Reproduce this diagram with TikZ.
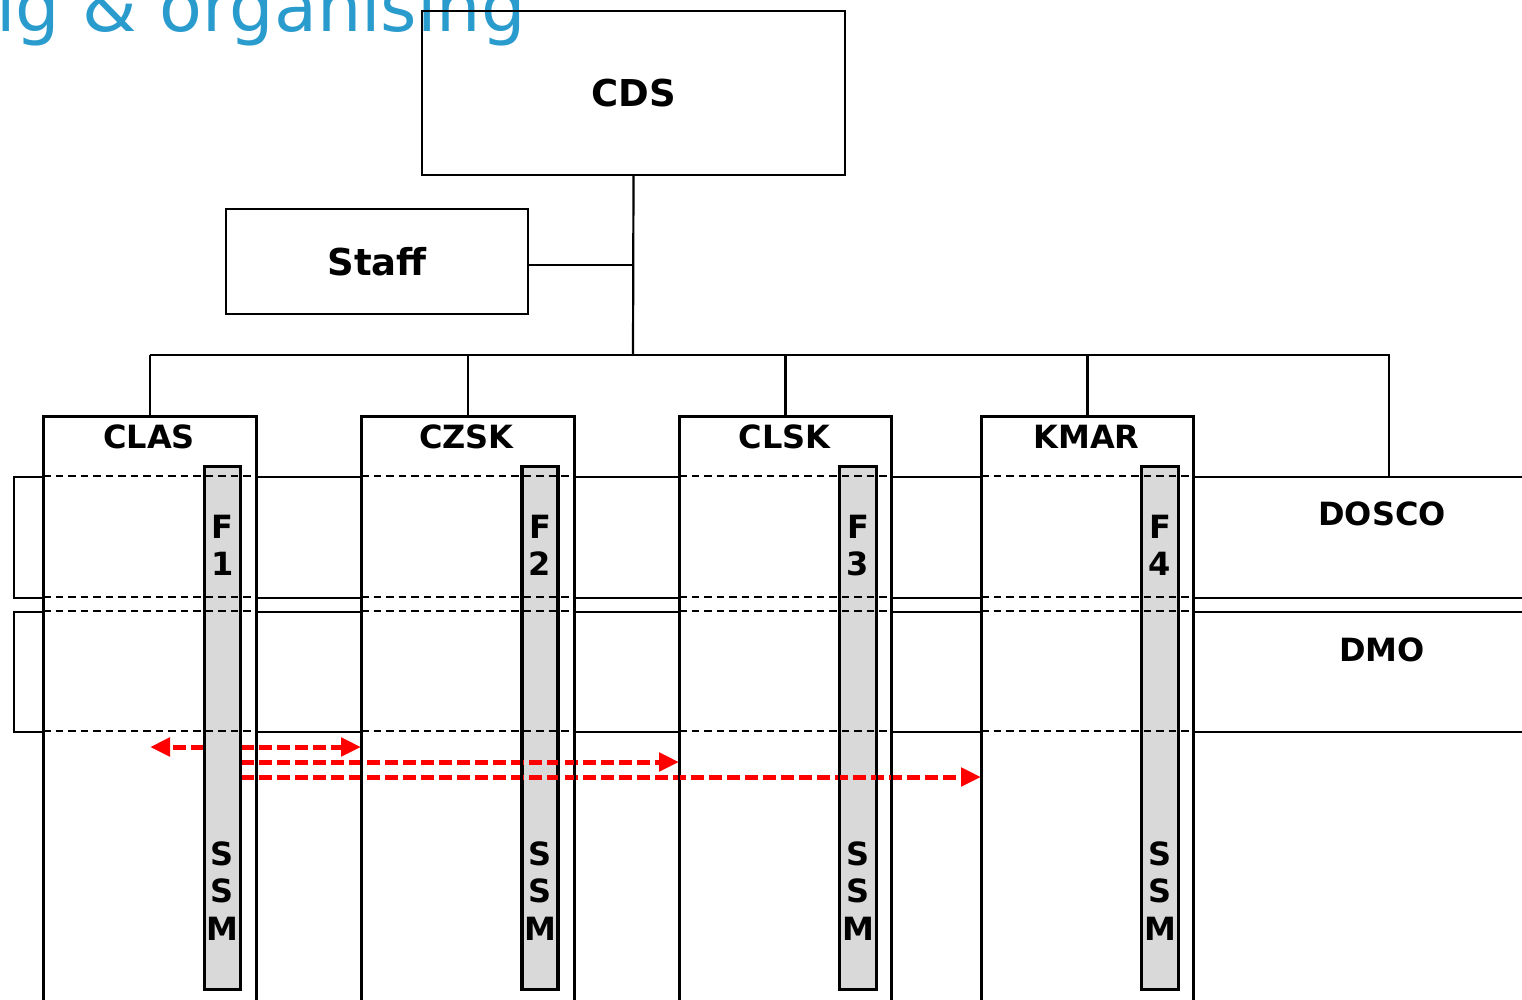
\documentclass[tikz,border=0pt]{standalone}
\usepackage{fontspec}
\setmainfont{DejaVu Sans}
\usetikzlibrary{arrows.meta}
\definecolor{titleblue}{HTML}{2A9BCD}
\definecolor{bargray}{HTML}{D9D9D9}
\begin{document}
\begin{tikzpicture}[x=1pt,y=-1pt,
  box/.style={draw=black, line width=2pt, fill=white, rectangle, inner sep=0pt},
  lbl/.style={font=\bfseries\fontsize{32}{37.5}\selectfont, inner sep=0pt, align=center},
  biglbl/.style={font=\bfseries\fontsize{37}{43}\selectfont, inner sep=0pt},
  conn/.style={line width=2.2pt},
  dline/.style={line width=1.8pt, dash pattern=on 7.5pt off 5pt},
  colbox/.style={box, minimum width=212pt, minimum height=620pt, anchor=north west},
  barbox/.style={draw=black, line width=2.2pt, fill=bargray, inner sep=0pt, minimum width=35pt, minimum height=522pt, anchor=north},
  bandbox/.style={box, anchor=north west, minimum width=1560pt},
  redarrow/.style={red, line width=5pt, dash pattern=on 12.5pt off 5.5pt, -{Triangle[length=20pt,width=18pt]}},
]
\useasboundingbox (0,0) rectangle (1522,999);
\clip (0,0) rectangle (1522,999);

% title
\node[anchor=base west, inner sep=0pt, text=titleblue, font=\fontsize{70}{80}\selectfont] (title) at (-4,31) {ig \& organising};

% top boxes (CDS border drawn over the title, no fill)
\node[box, fill=none, biglbl, minimum width=423pt, minimum height=164pt, anchor=north west] (cds) at (421,10) {CDS};
\node[box, biglbl, minimum width=302pt, minimum height=105pt, anchor=north west] (staff) at (225,208) {Staff};

% bands
\node[bandbox, minimum height=121pt] (dosco) at (13,476) {};
\node[bandbox, minimum height=120pt] (dmo) at (13,611) {};
\node[lbl] (doscol) at (1382,514) {DOSCO};
\node[lbl] (dmol) at (1382,650) {DMO};

% columns
\node[colbox] (clas) at (43,416) {};
\node[colbox] (czsk) at (361,416) {};
\node[colbox, minimum width=211pt] (clsk) at (679,416) {};
\node[colbox, minimum width=211pt] (kmar) at (981,416) {};
\node[lbl] (clasl) at (149,437) {CLAS};
\node[lbl] (czskl) at (466.5,437) {CZSK};
\node[lbl] (clskl) at (784.5,437) {CLSK};
\node[lbl] (kmarl) at (1086.5,437) {KMAR};

% org connectors
\coordinate (bus) at (633,355);
\coordinate (staffy) at (0,265);
\coordinate (doscotop) at (1389,476);
\draw[conn] (cds.south) -- (bus);
\draw[conn] (staff.east |- staffy) -- (cds.south |- staffy);
\draw[conn] (bus -| clas.north) -- (bus -| doscotop) -- (doscotop);
\foreach \c in {clas,czsk,clsk,kmar} {
  \draw[conn] (bus -| \c.north) -- (\c.north);
}

% bars
\node[barbox] (f1) at (222.5,466) {};
\node[barbox] (f2) at (540,466) {};
\node[barbox, minimum width=36pt] (f3) at (858,466) {};
\node[barbox, minimum width=36pt] (f4) at (1160,466) {};

% dashed band lines inside columns
\coordinate (la) at (0,476);
\coordinate (lb) at (0,597);
\coordinate (lc) at (0,611);
\coordinate (ld) at (0,731);
\foreach \c in {clas,czsk,clsk,kmar} {
  \foreach \l in {la,lb,lc,ld} {
    \draw[dline] (\c.west |- \l) -- (\c.east |- \l);
  }
}

% red arrows
\coordinate (r1) at (0,747);
\coordinate (r2) at (0,762);
\coordinate (r3) at (0,777);
\draw[redarrow] (f1.west |- r1) -- (clas.north |- r1);
\draw[redarrow] (f1.east |- r1) -- (czsk.west |- r1);
\draw[redarrow] (f1.east |- r2) -- (clsk.west |- r2);
\draw[redarrow] (f1.east |- r3) -- (kmar.west |- r3);

% borders redrawn above the arrows
\foreach \c in {clas,czsk,clsk,kmar} {
  \draw[line width=2pt] (\c.south west) rectangle (\c.north east);
}
\foreach \b in {f1,f2,f3,f4} {
  \draw[line width=2.2pt] (\b.south west) rectangle (\b.north east);
}

% bar labels
\node[lbl] (f1a) at (222.5,545.5) {F\\1};
\node[lbl] (f1b) at (222.5,891) {S\\S\\M};
\node[lbl] (f2a) at (540,545.5) {F\\2};
\node[lbl] (f2b) at (540,891) {S\\S\\M};
\node[lbl] (f3a) at (858,545.5) {F\\3};
\node[lbl] (f3b) at (858,891) {S\\S\\M};
\node[lbl] (f4a) at (1160,545.5) {F\\4};
\node[lbl] (f4b) at (1160,891) {S\\S\\M};
\end{tikzpicture}
\end{document}
